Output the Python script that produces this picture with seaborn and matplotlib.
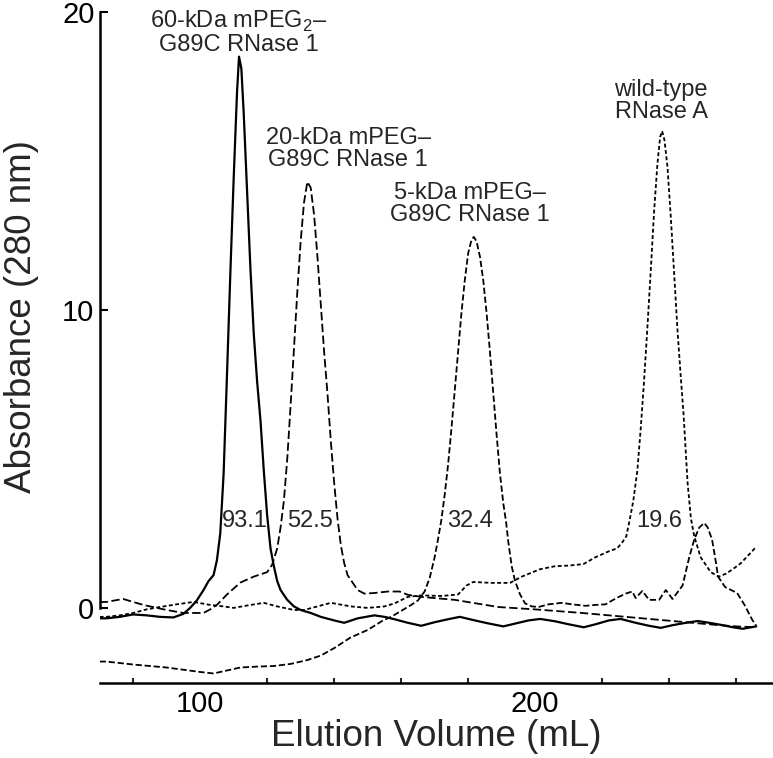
import numpy as np
import pandas as pd
import matplotlib
matplotlib.use('Agg')
import matplotlib.pyplot as plt
import seaborn as sns

# elution profiles (mL, absorbance at 280 nm)
peg60_x = [70, 72, 76, 80, 84, 88, 92, 95, 97, 99, 101, 102.5, 104, 105, 106, 107, 108, 109, 110, 111,
           111.6, 112.3, 113, 114, 115, 116, 117, 118, 119, 120, 121, 122, 123, 124, 126, 128, 130, 133,
           136, 140, 143, 147, 152, 155, 158, 162, 166, 170, 174, 177.5, 182, 186, 190.5, 195, 198, 201.5,
           206, 210, 214.5, 218, 222, 225.5, 230, 234, 237.5, 241, 245, 248.5, 252, 256, 259, 262, 266]
peg60_y = [-0.35, -0.35, -0.3, -0.22, -0.25, -0.3, -0.32, -0.2, 0.0, 0.25, 0.6, 0.9, 1.1, 1.6, 2.5, 4.5,
           7.8, 11.2, 14.4, 17.3, 18.5, 18.1, 16.6, 14.0, 11.4, 9.2, 7.6, 6.3, 4.6, 3.1, 2.0, 1.4, 0.9,
           0.6, 0.27, 0.05, -0.07, -0.17, -0.3, -0.42, -0.5, -0.35, -0.25, -0.3, -0.38, -0.5, -0.6, -0.48,
           -0.38, -0.3, -0.42, -0.52, -0.62, -0.5, -0.42, -0.37, -0.45, -0.55, -0.65, -0.55, -0.42, -0.37,
           -0.5, -0.6, -0.67, -0.58, -0.5, -0.44, -0.5, -0.58, -0.65, -0.7, -0.62]

peg20_x = [70, 72, 77, 83, 90, 95, 101, 103, 105, 108, 112, 116, 120, 121.5, 123, 124, 125, 126, 127, 128,
           129, 130, 131, 132, 133, 134, 135, 136, 137, 138, 139, 140, 141, 142, 143, 144, 145.5, 147, 149,
           152, 156, 159.5, 162, 166, 176, 189, 200, 214, 224, 234, 244, 254, 260, 266]
peg20_y = [0.2, 0.2, 0.3, 0.1, -0.07, -0.17, -0.17, -0.05, 0.1, 0.45, 0.85, 1.05, 1.2, 1.45, 2.0, 2.7,
           3.6, 5.0, 6.8, 8.7, 10.6, 12.3, 13.6, 14.3, 14.1, 13.2, 11.8, 10.2, 8.6, 7.2, 5.6, 4.2, 3.0,
           2.1, 1.5, 1.1, 0.85, 0.6, 0.48, 0.5, 0.55, 0.55, 0.44, 0.37, 0.27, 0.03, -0.05, -0.17, -0.27,
           -0.37, -0.47, -0.57, -0.62, -0.65]

peg5_x = [70, 72, 80, 90, 100, 104, 108, 112, 117, 122, 127, 132, 136, 140, 144.8, 150, 154.6, 157, 160,
          163, 165, 167, 168.5, 170, 171, 172, 173, 174, 175, 176, 177, 178, 179, 180, 181, 181.7, 182.5,
          183.5, 184.5, 185.5, 186.5, 187.5, 188.5, 189.5, 190.5, 191.3, 192, 193, 194, 195.5, 197, 199,
          201, 204, 208, 211, 215, 218, 221, 223, 225, 227, 229, 230, 232, 234, 237, 239, 241, 244, 246,
          247.5, 249, 250.5, 251.5, 252.8, 254, 254.6, 256.7, 260.3, 262.5, 264.8, 266]
peg5_y = [-1.8, -1.8, -1.9, -2.0, -2.15, -2.2, -2.1, -2.0, -1.97, -1.95, -1.88, -1.75, -1.6, -1.35, -1.0,
          -0.74, -0.42, -0.3, -0.1, 0.1, 0.25, 0.55, 1.0, 1.7, 2.3, 2.95, 3.8, 4.8, 6.0, 7.3, 8.6, 9.9,
          11.0, 11.9, 12.35, 12.45, 12.3, 11.8, 11.0, 9.9, 8.6, 7.2, 5.8, 4.5, 3.5, 2.9, 2.2, 1.4, 0.9,
          0.45, 0.15, 0.05, 0.03, 0.12, 0.17, 0.12, 0.07, 0.1, 0.12, 0.25, 0.37, 0.48, 0.55, 0.33, 0.57,
          0.27, 0.27, 0.6, 0.3, 0.75, 1.7, 2.3, 2.7, 2.85, 2.7, 2.3, 1.5, 1.05, 0.7, 0.5, 0.1, -0.4, -0.6]

wt_x = [70, 72, 76, 80, 84, 88, 93, 98, 103, 107, 110, 114, 119, 123, 128, 131, 135, 139, 145, 150, 155,
        158, 162, 166, 172, 177, 179.5, 181.5, 187, 192.5, 196, 201.5, 206, 210, 214.4, 218, 222, 224.5,
        226, 227.2, 228.3, 229.3, 230.5, 231.5, 232.5, 233.5, 234.5, 235.5, 236.5, 237.3, 237.9, 238.6,
        239.5, 240.5, 241.5, 242.5, 243.5, 244.3, 245.5, 246.5, 247.5, 249.4, 252.4, 254.8, 257, 259,
        261.4, 263.5, 266]
wt_y = [-0.3, -0.3, -0.25, -0.17, -0.05, 0.03, 0.12, 0.2, 0.1, 0.05, 0.0, 0.08, 0.17, 0.05, -0.07, -0.07,
        0.05, 0.17, 0.05, 0.0, 0.05, 0.15, 0.37, 0.42, 0.4, 0.45, 0.75, 0.87, 0.84, 0.84, 1.05, 1.3, 1.4,
        1.42, 1.47, 1.7, 1.9, 2.0, 2.2, 2.4, 3.0, 3.6, 4.6, 6.0, 7.6, 9.4, 11.3, 13.3, 14.9, 15.8, 16.0,
        15.7, 14.8, 13.1, 11.2, 9.3, 7.7, 6.5, 4.2, 3.0, 2.4, 1.7, 1.2, 1.05, 1.15, 1.3, 1.5, 1.75, 2.05]

peak_names = ['60-kDa mPEG$_\\mathregular{2}$–\nG89C RNase 1', '20-kDa mPEG–\nG89C RNase 1',
              '5-kDa mPEG–\nG89C RNase 1', 'wild-type\nRNase A']
peak_mw = ['93.1', '52.5', '32.4', '19.6']

sns.set_style('white')
plt.rcParams['font.family'] = ['Liberation Sans', 'DejaVu Sans']
plt.rcParams['mathtext.fontset'] = 'custom'
plt.rcParams['mathtext.rm'] = 'Liberation Sans'
plt.rcParams['lines.scale_dashes'] = False

fig = plt.figure(figsize=(7.73, 7.58), dpi=100)
ax = fig.add_axes([100 / 773, 75 / 758, 673 / 773, 683 / 758])

traces = [
    (peg60_x, peg60_y, '-', 1.6),
    (peg20_x, peg20_y, (0, (6, 2.5)), 1.3),
    (peg5_x, peg5_y, (0, (4.5, 2)), 1.3),
    (wt_x, wt_y, (0, (2.8, 1.8)), 1.3),
]
for xs, ys, ls, lw in traces:
    sns.lineplot(x=xs, y=ys, ax=ax, color='black', linestyle=ls, linewidth=lw,
                 estimator=None, sort=False)

# labels above the peaks
label_pos = [(111.5, 19.3), (144.2, 15.4), (180.6, 13.55), (237.6, 17.0)]
for name, (lx, ly) in zip(peak_names, label_pos):
    ax.text(lx, ly, name, ha='center', va='center', multialignment='center',
            fontsize=17, linespacing=1.0, clip_on=False)

mw_x = [113.4, 132.8, 180.6, 236.9]
for txt, mx in zip(peak_mw, mw_x):
    ax.text(mx, 2.92, txt, ha='center', va='center', fontsize=17)

ax.set_xlim(70.1, 271)
ax.set_ylim(-2.52, 20.4)
ax.set_xticks([100, 200])
ax.set_xticks([80, 120, 140, 160, 180, 220, 240, 260], minor=True)
ax.set_yticks([0, 10, 20])

sns.despine(ax=ax)
ax.spines['left'].set_bounds(0, 20)
for s in ['left', 'bottom']:
    ax.spines[s].set_linewidth(1.8)
    ax.spines[s].set_color('black')

ax.tick_params(axis='both', which='major', direction='in', length=6, width=1.5,
               labelsize=21, colors='black')
ax.tick_params(axis='x', which='minor', direction='in', length=3.6, width=1.5, bottom=True)
ax.tick_params(axis='x', which='major', pad=5)
ax.tick_params(axis='y', which='major', pad=4, left=True)

ax.set_xlabel('Elution Volume (mL)', fontsize=26.5)
ax.set_ylabel('Absorbance (280 nm)', fontsize=26.5)
ax.xaxis.set_label_coords(0.5, -0.052)
ax.yaxis.set_label_coords(-0.09, 0.537)

fig.savefig('out.png', dpi=100)
